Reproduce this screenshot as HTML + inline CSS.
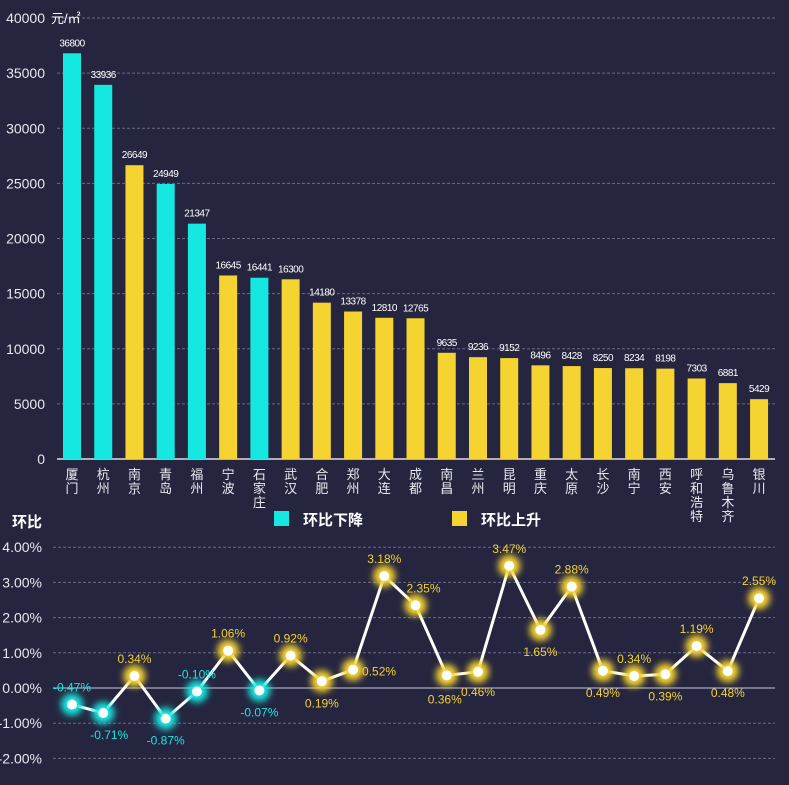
<!DOCTYPE html>
<html><head><meta charset="utf-8"><style>
body{margin:0;background:#25253f;}
svg{display:block;font-family:"Liberation Sans","Noto Sans CJK SC",sans-serif;}
</style></head><body>
<svg id="c" width="789" height="785"></svg>
<script>
const cities=["厦门","杭州","南京","青岛","福州","宁波","石家庄","武汉","合肥","郑州","大连","成都","南昌","兰州","昆明","重庆","太原","长沙","南宁","西安","呼和浩特","乌鲁木齐","银川"];
const prices=[36800,33936,26649,24949,21347,16645,16441,16300,14180,13378,12810,12765,9635,9236,9152,8496,8428,8250,8234,8198,7303,6881,5429];
const changes=[-0.47,-0.71,0.34,-0.87,-0.10,1.06,-0.07,0.92,0.19,0.52,3.18,2.35,0.36,0.46,3.47,1.65,2.88,0.49,0.34,0.39,1.19,0.48,2.55];
const priceTicks=[0,5000,10000,15000,20000,25000,30000,35000,40000];
const pctTicks=[-2,-1,0,1,2,3,4];
// label placement (layout only): [dx, dy]
const lblPos=[[0,-17],[6,22],[0,-17],[0,22],[0,-17],[0,-17],[0,22],[0,-17],[0,22],[26,2],[0,-17],[8,-17],[-2,24],[0,20],[0,-17],[0,22],[0,-17],[0,22],[0,-17],[0,22],[0,-17],[0,22],[0,-17]];
const CY='#15e8e0',YE='#f5d330';
const svg=document.getElementById('c');const NS='http://www.w3.org/2000/svg';
function mk(t,a,p){const e=document.createElementNS(NS,t);for(const k in a)e.setAttribute(k,a[k]);(p||svg).appendChild(e);return e;}
const xc=i=>72+i*31.23;
const yP=v=>459-v/40000*441;
const yC=v=>688-v*35.2;
const defs=mk('defs',{});
defs.innerHTML='<filter id="gl" x="-100%" y="-100%" width="300%" height="300%"><feGaussianBlur stdDeviation="3.5"/></filter>';
priceTicks.forEach(t=>{
  if(t>0){const g=mk('line',{x1:57,x2:775,y1:yP(t),y2:yP(t),stroke:'#6a6a8c','stroke-dasharray':'3,2','stroke-width':1});
  }
  const l=mk('text',{x:45,y:yP(t)+5,fill:'#e8e8f0','font-size':14,'text-anchor':'end'});l.textContent=t;
  
});
const unit=mk('text',{x:51,y:23,fill:'#fff','font-size':13});unit.textContent='元/㎡';

const ax=mk('line',{x1:57,x2:775,y1:459,y2:459,stroke:'#ddd','stroke-width':1.5});

prices.forEach((v,i)=>{
  const col=changes[i]<0?CY:YE;
  const r=mk('rect',{x:xc(i)-9,y:yP(v),width:18,height:459-yP(v),fill:col});
  
  const t=mk('text',{x:xc(i),y:yP(v)-7,fill:'#fff','font-size':10,'text-anchor':'middle','letter-spacing':'-0.5'});t.textContent=v;
  
  [...cities[i]].forEach((ch,k)=>{const c=mk('text',{x:xc(i),y:479+k*14,fill:'#e8e8f0','font-size':13,'text-anchor':'middle'});c.textContent=ch;
  });
});
const hb=mk('text',{x:12,y:527,fill:'#fff','font-size':15,'font-weight':'bold'});hb.textContent='环比';

[[274,CY,'环比下降'],[452,YE,'环比上升']].forEach(([x,c,s])=>{
  const r=mk('rect',{x:x,y:511,width:15,height:15,fill:c});
  const t=mk('text',{x:x+29,y:525,fill:'#fff','font-size':15,'font-weight':'bold'});t.textContent=s;
  
});
pctTicks.forEach(t=>{
  const g=mk('line',{x1:53,x2:775,y1:yC(t),y2:yC(t),stroke:t===0?'#c8c8dc':'#6a6a8c','stroke-dasharray':t===0?'':'3,2','stroke-width':1});
  
  const l=mk('text',{x:42,y:yC(t)+5,fill:'#e8e8f0','font-size':14,'text-anchor':'end'});l.textContent=t.toFixed(2)+'%';
  
});
const pl=mk('polyline',{points:changes.map((v,i)=>xc(i)+','+yC(v)).join(' '),fill:'none',stroke:'#fff','stroke-width':3});

changes.forEach((v,i)=>{
  const col=v<0?CY:YE;
  const g=mk('circle',{cx:xc(i),cy:yC(v),r:11,fill:col,filter:'url(#gl)',opacity:1});
  
  const p=mk('circle',{cx:xc(i),cy:yC(v),r:5,fill:'#fff'});
  
  const t=mk('text',{x:xc(i)+lblPos[i][0],y:yC(v)+lblPos[i][1]+4,fill:col,'font-size':12,'text-anchor':'middle'});t.textContent=v.toFixed(2)+'%';
  
});
</script>
</body></html>
